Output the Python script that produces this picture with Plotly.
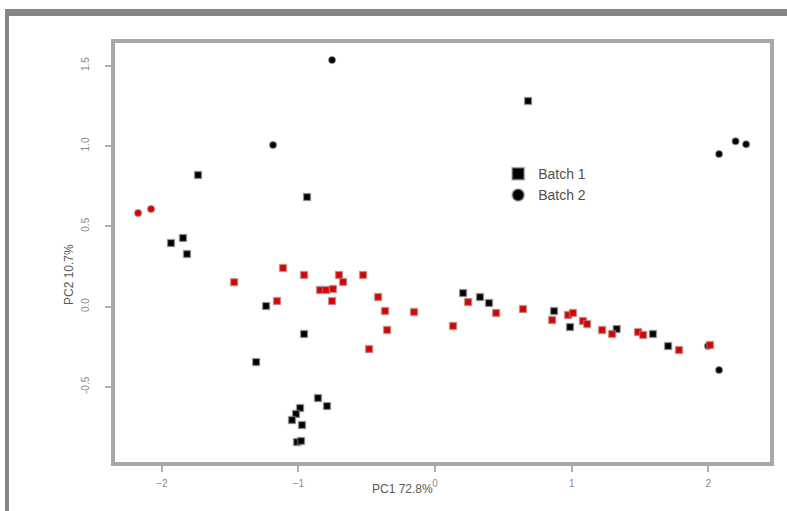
import plotly.graph_objects as go

# Batch 1 (squares)
b1_black_x = [0.681, -1.735, -0.937, -1.933, -1.845, -1.816, -1.237, -0.959, -1.310,
              -0.988, -1.018, -1.047, -0.974, -1.010, -0.981, -0.857, -0.791,
              0.205, 0.329, 0.395, 0.871, 0.988, 1.330, 1.595, 1.706]
b1_black_y = [1.28, 0.819, 0.682, 0.395, 0.427, 0.327, 0.003, -0.171, -0.346,
              -0.632, -0.669, -0.707, -0.738, -0.844, -0.837, -0.570, -0.620,
              0.084, 0.059, 0.022, -0.028, -0.128, -0.140, -0.171, -0.246]
b1_red_x = [-1.471, -1.113, -0.959, -1.157, -0.842, -0.798, -0.747, -0.703, -0.673,
            -0.754, -0.527, -0.417, -0.366, -0.351, -0.483, -0.154, 0.132, 0.242,
            0.447, 0.644, 0.857, 0.974, 1.010, 1.083, 1.113, 1.223, 1.296, 1.486,
            1.523, 1.786, 2.013]
b1_red_y = [0.152, 0.240, 0.196, 0.034, 0.103, 0.103, 0.109, 0.196, 0.153,
            0.034, 0.196, 0.059, -0.028, -0.146, -0.265, -0.034, -0.121, 0.028,
            -0.040, -0.016, -0.084, -0.053, -0.040, -0.090, -0.109, -0.146, -0.171, -0.159,
            -0.177, -0.271, -0.240]

# Batch 2 (circles)
b2_black_x = [-0.754, -1.186, 2.079, 2.200, 2.277, 2.079, 1.998]
b2_black_y = [1.535, 1.006, 0.950, 1.030, 1.010, -0.395, -0.246]
b2_red_x = [-2.174, -2.079]
b2_red_y = [0.582, 0.607]

x_ticks = [-2, -1, 0, 1, 2]
y_ticks = [1.5, 1.0, 0.5, 0.0, -0.5]
y_tick_text = ["1.5", "1.0", "0.5", "0.0", "-0.5"]

halo = dict(color="rgba(150,150,150,0.55)", width=1.5)
fig = go.Figure()
fig.add_trace(go.Scatter(x=b1_black_x, y=b1_black_y, mode="markers", name="Batch 1",
                         marker=dict(symbol="square", size=7, color="black", line=halo)))
fig.add_trace(go.Scatter(x=b2_black_x, y=b2_black_y, mode="markers", name="Batch 2",
                         marker=dict(symbol="circle", size=7, color="black", line=halo)))
fig.add_trace(go.Scatter(x=b1_red_x, y=b1_red_y, mode="markers", showlegend=False,
                         marker=dict(symbol="square", size=7, color="#dd0000", line=halo)))
fig.add_trace(go.Scatter(x=b2_red_x, y=b2_red_y, mode="markers", showlegend=False,
                         marker=dict(symbol="circle", size=7, color="#dd0000", line=halo)))

tickfont = dict(family="Liberation Sans", size=10, color="#8a8a8a")
fig.update_layout(
    width=787, height=511,
    margin=dict(l=115, r=17, t=43, b=49),
    paper_bgcolor="white", plot_bgcolor="white",
    font=dict(family="Liberation Sans", color="#595959"),
    legend=dict(x=0.585, y=0.725, xanchor="left", yanchor="top",
                bgcolor="rgba(0,0,0,0)", font=dict(size=14, color="#505050"),
                itemwidth=30, tracegroupgap=0, itemsizing="constant"),
    xaxis=dict(range=[-2.343, 2.452], tickvals=x_ticks, ticks="outside", ticklen=6,
               tickcolor="#b0b0b0", tickwidth=2, showgrid=False, zeroline=False,
               showline=True, mirror=True, linecolor="#a8a8a8", linewidth=4,
               tickfont=tickfont, ticklabelstandoff=3),
    yaxis=dict(range=[-0.968, 1.641], tickvals=y_ticks, ticktext=y_tick_text,
               ticks="outside", ticklen=6, tickcolor="#b0b0b0", tickwidth=2,
               showgrid=False, zeroline=False, showline=True, mirror=True,
               linecolor="#a8a8a8", linewidth=4, tickangle=-90, tickfont=tickfont,
               ticklabelstandoff=12),
    annotations=[
        dict(text="PC1 72.8%", xref="paper", yref="paper", x=(402 - 115) / 655,
             y=(462 - 498) / 419, showarrow=False, font=dict(size=12, color="#595959")),
        dict(text="PC2 10.7%", xref="paper", yref="paper", x=(60 - 115) / 655,
             y=(462 - 275) / 419, showarrow=False, textangle=-90,
             font=dict(size=12, color="#595959")),
    ],
    shapes=[
        dict(type="rect", xref="paper", yref="paper", x0=(5 - 115) / 655, x1=(787 - 115) / 655,
             y0=(462 - 16) / 419, y1=(462 - 9) / 419, fillcolor="#858585", line_width=0, layer="below"),
        dict(type="rect", xref="paper", yref="paper", x0=(5 - 115) / 655, x1=(9 - 115) / 655,
             y0=(462 - 511) / 419, y1=(462 - 9) / 419, fillcolor="#858585", line_width=0, layer="below"),
    ],
)

fig.write_html("out.html")
